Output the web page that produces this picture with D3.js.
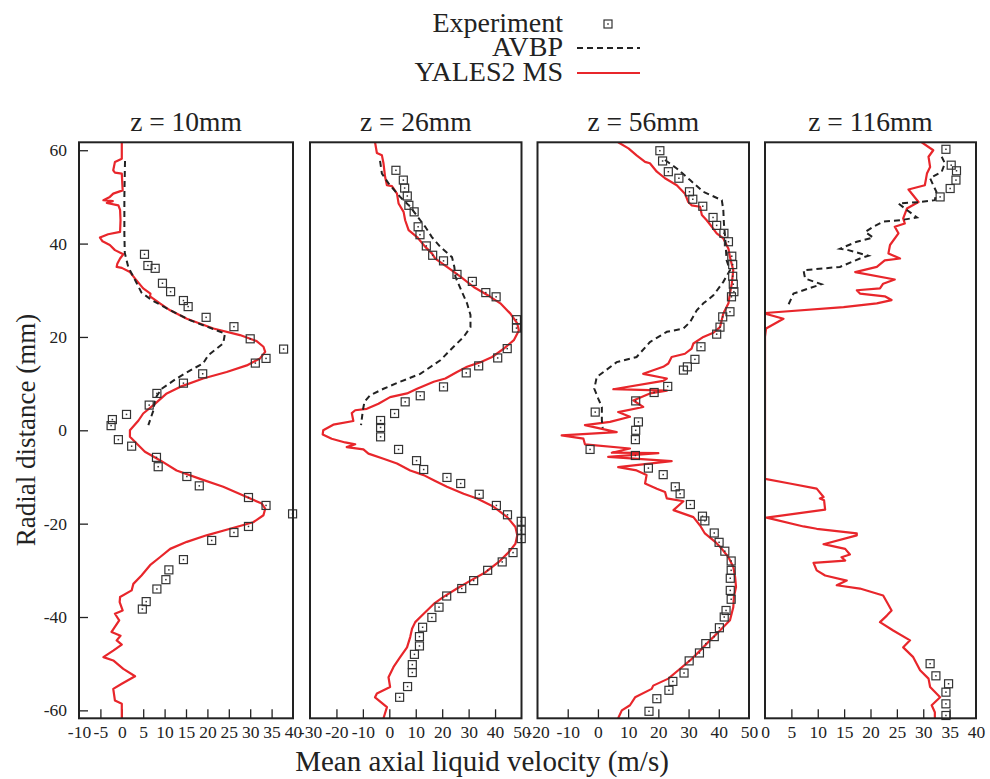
<!DOCTYPE html>
<html><head><meta charset="utf-8">
<script src="https://cdn.jsdelivr.net/npm/d3@7"></script>
<style>
body{margin:0;background:#fff;}
svg text{font-family:"Liberation Serif","Times New Roman",serif;fill:#222;}
</style></head>
<body><svg id="c" width="990" height="779"></svg>
<script>
// ---------- data ([velocity m/s, radial distance mm]) ----------
const panelTitles = ["z = 10mm", "z = 26mm", "z = 56mm", "z = 116mm"];
const xDomains = [[-10, 40], [-30, 50], [-20, 50], [0, 40]];
const xTickSteps = [5, 10, 10, 5];
const yTicks = [-60, -40, -20, 0, 20, 40, 60];
const seriesNames = ["Experiment", "AVBP", "YALES2 MS"];

const exp10 = [[5.3,37.7],[6.1,35.3],[7.8,34.7],[9.5,31.5],[11.4,29.7],[14.4,27.8],[15.5,26.5],[19.7,24.2],[26.2,22.2],[30.0,19.6],[37.8,17.4],[33.7,15.4],[31.2,14.4],[18.9,12.1],[14.4,10.1],[8.2,7.9],[6.4,5.4],[1.1,3.4],[-2.2,2.3],[-2.5,1.0],[-0.8,-2.0],[2.3,-3.4],[8.1,-5.8],[8.5,-7.8],[15.2,-9.9],[18.1,-11.9],[29.6,-14.4],[33.7,-16.1],[39.9,-17.9],[29.6,-20.6],[26.2,-21.9],[21.0,-23.6],[14.4,-27.7],[11.0,-29.9],[10.3,-32.0],[8.2,-34.0],[5.7,-36.7],[4.8,-38.3]];
const avbp10 = [[0.75,57.7],[0.6,50],[0.6,42],[0.7,38],[1.5,35],[3.1,32.2],[4.6,29.5],[7.0,27.9],[10.5,26.1],[15.9,23.6],[22.2,21.4],[24.1,20.7],[23.7,18.6],[20.2,16.1],[19.0,14.3],[16.7,13.2],[12.8,11.1],[9.3,8.9],[7.8,6.8],[7.4,4.3],[6.2,1.1]];
const yales10 = [[0,61.7],[0,58.2],[-1.6,57.5],[-2.0,55.7],[-1.6,55.2],[0,55.0],[0.2,51.4],[-2.0,50.7],[-2.8,50.0],[-4.3,49.3],[-2.1,49.1],[-3.5,48.7],[-0.8,48.2],[-0.4,47.2],[-0.3,45.0],[-0.4,42.5],[-3.2,42.0],[-5.1,41.3],[-4.5,40.5],[-2.8,39.7],[-1.6,38.6],[0.35,37.7],[-0.4,36.8],[-1.05,35.7],[-1.2,35.0],[0,34.8],[1.9,33.9],[3.1,32.5],[5.0,30.4],[6.7,29.3],[6.6,28.7],[8.9,27.2],[11.3,25.7],[15.2,23.9],[21.4,21.8],[27.6,20.4],[31.5,19.1],[33.1,17.9],[33.5,16.8],[32.3,15.4],[29.2,13.9],[24.5,12.5],[19.0,11.1],[13.6,9.3],[10.5,7.9],[7.8,5.7],[5.0,3.6],[3.9,2.1],[1.9,0],[1.9,-1.4],[5.4,-4.6],[8.9,-6.4],[12.8,-8.6],[18.3,-10.4],[23.7,-12.1],[29.2,-14.3],[32.7,-15.7],[33.5,-16.8],[33.1,-18.2],[30.7,-19.7],[25.3,-21.1],[19.8,-22.5],[15.2,-23.9],[11.3,-25.4],[8.9,-27.2],[6.6,-28.9],[4.6,-31.1],[2.7,-32.9],[2.3,-34.3],[-0.4,-35.7],[-0.5,-36.8],[0.2,-38.6],[-1.6,-39.3],[-0.6,-40.7],[-2.4,-43.2],[-0.3,-44.0],[-1.2,-45.0],[0,-45.9],[-2.0,-47.2],[-4.3,-48.6],[-2.0,-49.3],[0.35,-51.1],[3.1,-52.7],[0,-54.3],[-2.0,-55.4],[-1.6,-57.9],[0,-58.6],[0,-61.7]];

const exp26 = [[2.5,55.7],[5.3,53.6],[5.8,51.9],[6.8,50.2],[7.4,48.2],[9.4,46.8],[10.9,43.6],[11.6,41.9],[14.0,39.5],[16.4,37.5],[20.5,36.3],[25.6,33.4],[31.4,31.9],[36.5,29.5],[40.4,28.6],[48.1,23.7],[48.1,21.9],[44.6,17.5],[41.0,15.5],[33.8,13.8],[29.1,12.3],[20.5,9.3],[11.7,7.4],[6.0,6.1],[2.0,3.6],[-3.3,2.1],[-3.3,0.6],[-3.3,-1.4],[3.5,-4.1],[10.3,-6.5],[13.0,-8.4],[21.8,-10.1],[27.0,-11.4],[34.0,-13.7],[40.5,-16.1],[44.7,-18.1],[49.9,-19.5],[49.9,-21.4],[49.9,-23.2],[46.8,-26.2],[42.7,-28.2],[37.2,-30.0],[31.9,-32.2],[27.4,-33.9],[21.7,-35.5],[18.8,-37.9],[16.1,-40.1],[12.6,-42.2],[11.4,-44.2],[11.4,-46.2],[9.5,-48.0],[8.7,-50.2],[8.7,-51.9],[6.9,-54.9],[3.9,-57.2]];
const avbp26 = [[-3.5,57.7],[-2.8,55.0],[-0.3,52.9],[4.1,50.0],[7.9,47.9],[11.7,45.0],[13.6,43.6],[16.1,41.4],[19.3,39.3],[23.7,37.1],[24.6,35.0],[25.0,32.9],[26.9,30.4],[29.4,27.2],[30.7,24.7],[30.7,22.1],[28.1,20.0],[24.3,17.9],[19.3,15.0],[11.7,12.1],[4.1,10.4],[-2.2,8.9],[-7.3,7.5],[-9.4,6.1],[-10.0,4.3],[-10.7,1.1]];
const yales26 = [[-5.4,61.7],[-4.7,59.4],[-2.8,58.9],[-2.2,57.2],[-1.6,54.3],[-0.9,52.5],[1.0,52.3],[2.9,50.7],[3.5,48.6],[5.4,46.8],[6.0,45.0],[7.3,42.9],[10.5,41.4],[13.6,39.3],[16.1,37.9],[17.4,36.8],[21.8,35.0],[26.9,32.9],[31.9,30.7],[38.2,28.6],[42.0,27.2],[45.8,25.0],[48.4,22.9],[49.0,21.4],[47.1,19.3],[43.3,17.5],[38.9,15.7],[34.5,14.6],[29.4,13.6],[25.6,12.5],[21.2,11.1],[16.8,10.4],[10.5,8.9],[6.7,7.9],[0.3,7.1],[-4.1,5.7],[-8.5,4.6],[-12.9,4.3],[-14.2,3.7],[-13.6,2.0],[-21.2,1.2],[-25.0,0],[-25.2,-0.9],[-21.8,-1.8],[-16.7,-2.6],[-12.9,-3.0],[-16.1,-3.6],[-9.8,-4.1],[-7.9,-5.0],[-2.2,-6.1],[2.9,-7.1],[7.9,-8.6],[13.0,-9.6],[16.8,-10.7],[21.8,-12.1],[28.1,-13.6],[33.2,-14.6],[39.5,-16.4],[44.6,-18.6],[47.7,-20.7],[48.4,-22.5],[47.7,-24.3],[45.2,-26.1],[41.4,-28.2],[36.4,-30.4],[30.7,-32.2],[25.6,-33.9],[20.5,-35.7],[16.8,-37.2],[13.0,-39.3],[9.8,-41.1],[8.6,-42.5],[7.9,-44.3],[6.7,-46.5],[4.1,-48.6],[1.6,-50.7],[-0.3,-52.9],[0.3,-55.0],[-4.7,-56.4],[-5.4,-57.2],[-0.9,-59.3],[-2.2,-61.7]];

const exp56 = [[20.5,59.9],[21.4,57.7],[23.3,55.4],[26.8,54.0],[30.3,51.1],[31.4,49.5],[34.7,48.0],[38.1,45.6],[39.3,43.9],[41.7,42.2],[43.2,40.4],[44.3,37.3],[44.6,35.5],[44.6,33.0],[44.8,31.3],[45.0,29.7],[44.2,28.6],[43.7,25.4],[41.3,24.3],[40.4,22.1],[39.3,20.6],[34.1,17.9],[32.1,15.2],[29.6,13.6],[28.3,12.9],[23.1,9.4],[18.6,8.1],[12.5,6.3],[-0.9,3.9],[13.4,1.8],[12.5,0],[12.4,-2.0],[-2.6,-4.1],[12.4,-5.4],[16.7,-8.1],[21.6,-9.5],[25.6,-12.1],[27.2,-13.6],[30.6,-15.9],[34.6,-18.4],[35.4,-19.4],[38.5,-22.0],[40.1,-24.0],[42.0,-25.9],[44.1,-28.0],[44.1,-30.0],[43.8,-31.7],[43.8,-34.3],[44.1,-36.2],[42.4,-38.6],[41.8,-40.0],[40.2,-42.3],[38.5,-44.2],[35.7,-45.7],[33.6,-47.7],[30.2,-49.4],[28.5,-52.0],[24.8,-53.8],[23.5,-55.7],[19.5,-57.5],[16.9,-60.2]];
const avbp56 = [[22.2,57.9],[26.1,56.1],[30.5,53.6],[34.9,51.1],[41.0,49.3],[41.5,47.2],[41.7,44.3],[42.1,41.4],[42.6,36.4],[43.7,34.3],[41.5,31.8],[38.2,28.9],[34.9,27.2],[32.7,25.7],[30.5,23.2],[28.3,21.8],[22.8,21.1],[17.2,18.9],[12.8,15.7],[6.2,14.6],[-0.4,11.4],[-1.2,8.9],[0.1,6.8],[1.3,5.0],[1.3,2.1],[1.6,0.5]];
const yales56 = [[6.7,61.7],[10.1,60.4],[12.8,58.9],[15.6,57.5],[17.2,57.2],[19.5,55.4],[22.2,54.0],[26.1,52.5],[28.8,50.7],[29.9,48.9],[31.0,48.2],[33.8,47.9],[34.4,46.1],[36.0,45.0],[37.7,43.6],[39.3,42.2],[41.5,41.1],[43.2,38.9],[43.7,37.1],[44.8,34.3],[44.3,31.4],[43.7,29.3],[43.2,27.2],[41.5,25.0],[40.4,22.1],[38.2,20.9],[34.9,20.0],[31.6,18.6],[31.0,17.5],[28.8,16.4],[24.4,15.7],[23.3,14.3],[21.6,13.6],[15.0,12.1],[22.8,11.1],[21.6,10.6],[5.1,8.8],[22.8,8.5],[17.2,7.9],[11.7,6.4],[15.0,5.0],[6.7,3.9],[10.6,2.9],[4.0,1.8],[-4.3,1.1],[6.2,-0.4],[-12.0,-1.1],[-4.8,-1.8],[-4.3,-3.0],[10.6,-3.9],[4.6,-4.8],[20.0,-4.9],[3.4,-5.7],[24.4,-6.6],[6.7,-7.9],[12.8,-8.6],[16.1,-9.6],[15.6,-11.4],[19.5,-12.5],[22.2,-13.2],[22.8,-14.6],[28.3,-15.2],[25.0,-17.1],[31.6,-18.6],[33.8,-20.4],[35.4,-22.1],[38.8,-23.9],[41.0,-25.4],[43.2,-27.2],[44.8,-29.3],[45.4,-31.4],[45.7,-33.6],[45.0,-35.7],[44.8,-37.9],[43.7,-40.7],[40.4,-42.9],[37.1,-45.0],[33.8,-47.2],[30.5,-49.3],[26.6,-51.4],[23.3,-53.2],[18.3,-54.7],[17.8,-55.4],[12.3,-57.2],[10.6,-58.9],[7.9,-60.0],[6.7,-61.7]];

const exp116 = [[34.3,60.2],[35.3,56.8],[36.3,55.6],[36.2,53.6],[35.1,51.8],[33.2,50.0],[31.3,-50.0],[32.4,-52.6],[34.8,-54.3],[34.3,-56.1],[34.3,-58.6],[34.3,-61.1]];
const avbp116 = [[33.5,58.6],[34.1,57.2],[33.5,55.4],[31.3,54.0],[31.9,52.5],[32.5,51.1],[32.2,49.3],[29.4,48.9],[25.3,48.6],[26.9,47.2],[28.8,45.6],[25.6,45.0],[22.4,44.7],[20.5,43.6],[19.0,42.5],[20.5,41.3],[17.4,40.4],[14.2,38.9],[15.8,38.6],[19.6,37.4],[18.0,36.8],[14.2,35.0],[7.3,34.3],[7.6,32.5],[10.7,31.3],[5.4,29.3],[4.4,26.8]];
const yales116 = [[29.7,61.7],[31.9,60.0],[31.0,58.6],[31.3,56.4],[30.7,55.0],[30.3,52.5],[27.2,51.6],[29.1,48.9],[26.9,47.5],[26.2,45.4],[26.5,44.3],[24.6,43.6],[25.3,42.2],[23.7,39.7],[23.4,37.9],[25.6,36.8],[22.7,36.4],[21.2,35.0],[17.1,33.9],[24.6,32.3],[22.4,31.4],[21.8,30.4],[17.4,30.0],[18.0,29.3],[22.7,28.7],[24.0,27.9],[21.2,27.2],[14.9,26.4],[-0.3,25.1],[3.5,23.9],[0.2,21.8],[0,20],[0,-10.4],[4.7,-11.4],[9.8,-12.5],[11.1,-14.3],[10.4,-14.6],[11.2,-15.0],[11.4,-17.0],[0.3,-18.7],[7.3,-20.6],[9.8,-21.1],[17.4,-22.1],[17.4,-22.5],[11.1,-24.4],[15.2,-25.4],[16.1,-26.6],[14.5,-27.2],[15.2,-27.9],[9.2,-28.4],[9.8,-30.0],[11.4,-31.1],[15.5,-32.2],[13.6,-33.2],[18.0,-33.9],[22.4,-35.4],[23.1,-36.8],[24.0,-38.6],[23.1,-39.7],[21.8,-41.1],[24.3,-42.9],[27.5,-45.0],[26.2,-46.5],[28.1,-48.6],[29.4,-51.4],[31.0,-53.2],[31.3,-55.0],[33.2,-57.2],[31.6,-58.9],[32.2,-60.4],[32.2,-61.7]];

const experimentSets = [exp10, exp26, exp56, exp116];
const avbpSets = [avbp10, avbp26, avbp56, avbp116];
const yalesSets = [yales10, yales26, yales56, yales116];

// ---------- drawing ----------
const RED = "#e8262b", DARK = "#222";
const svg = d3.select("#c");
const panelX = [[79, 293], [310, 521.5], [537.5, 749], [765, 976]];
const plotTop = 142.3, plotBottom = 718.3;
const y = d3.scaleLinear().domain([-61.7, 61.7]).range([plotBottom, plotTop]);
const fmt = d => String(d); // plain hyphen minus as in the reference

function marker(g, cx, cy) {
  g.append("rect").attr("x", cx - 4).attr("y", cy - 4).attr("width", 8).attr("height", 8)
    .attr("fill", "none").attr("stroke", "#333").attr("stroke-width", 1.2);
  g.append("rect").attr("x", cx - 0.75).attr("y", cy - 0.75).attr("width", 1.5).attr("height", 1.5)
    .attr("fill", "#333");
}

panelTitles.forEach((title, i) => {
  const x = d3.scaleLinear().domain(xDomains[i]).range(panelX[i]);
  const g = svg.append("g");
  const clipId = "clip" + i;
  svg.append("clipPath").attr("id", clipId).append("rect")
    .attr("x", panelX[i][0]).attr("y", plotTop).attr("width", panelX[i][1] - panelX[i][0]).attr("height", plotBottom - plotTop);

  const ticks = d3.range(xDomains[i][0], xDomains[i][1] + 0.001, xTickSteps[i]);
  const xAxis = d3.axisTop(x).tickValues(ticks).tickSize(9).tickFormat(fmt);
  const ga = g.append("g").attr("transform", `translate(0,${plotBottom})`).call(xAxis);
  ga.select(".domain").remove();
  ga.selectAll(".tick line").attr("stroke", DARK).attr("stroke-width", 1.3)
    .filter(d => d === xDomains[i][0] || d === xDomains[i][1]).remove();
  ga.selectAll(".tick text").attr("y", 7).attr("dy", "0.71em").attr("font-size", 17.5)
    .attr("fill", "#222");

  if (i === 0) {
    const yAxis = d3.axisRight(y).tickValues(yTicks).tickSize(9).tickFormat(fmt);
    const gy = g.append("g").attr("transform", `translate(${panelX[0][0]},0)`).call(yAxis);
    gy.select(".domain").remove();
    gy.selectAll(".tick line").attr("stroke", DARK).attr("stroke-width", 1.3);
    gy.selectAll(".tick text").attr("x", -12).attr("text-anchor", "end").attr("font-size", 17.5)
      .attr("fill", "#222");
  }

  const line = d3.line().x(d => x(d[0])).y(d => y(d[1]));
  const plot = g.append("g").attr("clip-path", `url(#${clipId})`);
  plot.append("path").datum(yalesSets[i]).attr("d", line).attr("fill", "none")
    .attr("stroke", RED).attr("stroke-width", 2.2).attr("stroke-linejoin", "round");
  plot.append("path").datum(avbpSets[i]).attr("d", line).attr("fill", "none")
    .attr("stroke", DARK).attr("stroke-width", 2).attr("stroke-dasharray", "6,4");
  const mg = g.append("g");
  experimentSets[i].forEach(d => marker(mg, x(d[0]), y(d[1])));

  g.append("rect").attr("x", panelX[i][0]).attr("y", plotTop)
    .attr("width", panelX[i][1] - panelX[i][0]).attr("height", plotBottom - plotTop)
    .attr("fill", "none").attr("stroke", DARK).attr("stroke-width", 2);

  g.append("text").attr("x", (panelX[i][0] + panelX[i][1]) / 2).attr("y", 131)
    .attr("text-anchor", "middle").attr("font-size", 27.5).text(title);
});

svg.append("text").attr("x", 482).attr("y", 771).attr("text-anchor", "middle")
  .attr("font-size", 29).text("Mean axial liquid velocity (m/s)");
svg.append("text").attr("transform", "translate(35,430) rotate(-90)").attr("text-anchor", "middle")
  .attr("font-size", 27).text("Radial distance (mm)");

const lg = svg.append("g");
const legY = [32, 56, 81];
seriesNames.forEach((n, k) => {
  lg.append("text").attr("x", 563).attr("y", legY[k]).attr("text-anchor", "end")
    .attr("font-size", 28).text(n);
});
marker(lg, 608, 24);
lg.append("line").attr("x1", 577).attr("x2", 640).attr("y1", 48).attr("y2", 48)
  .attr("stroke", DARK).attr("stroke-width", 2).attr("stroke-dasharray", "6,4");
lg.append("line").attr("x1", 577).attr("x2", 640).attr("y1", 73).attr("y2", 73)
  .attr("stroke", RED).attr("stroke-width", 2.2);
</script></body></html>
